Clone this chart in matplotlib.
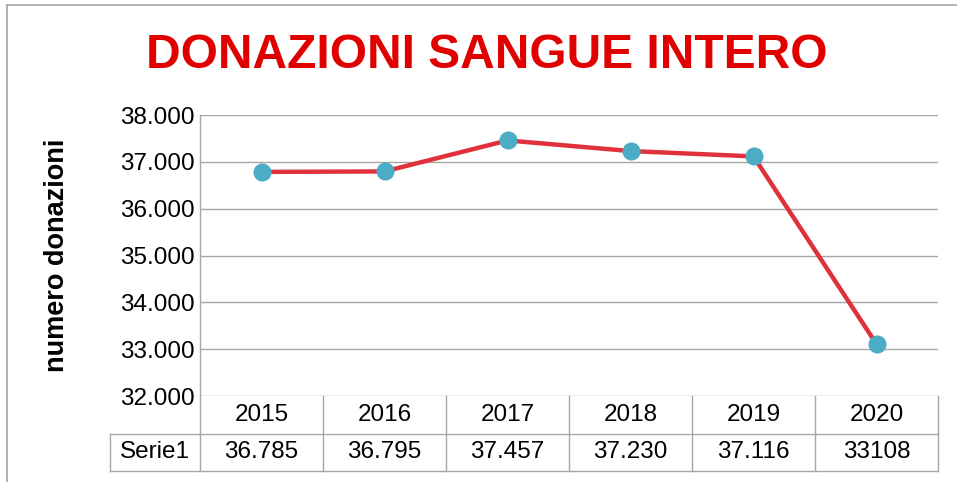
import matplotlib.pyplot as plt
from matplotlib.lines import Line2D
from matplotlib.ticker import FuncFormatter
import matplotlib.transforms as mtransforms

plt.rcParams['font.family'] = ['Liberation Sans', 'DejaVu Sans']

years = ["2015", "2016", "2017", "2018", "2019", "2020"]
donazioni = [36785, 36795, 37457, 37230, 37116, 33108]
table_labels = ["36.785", "36.795", "37.457", "37.230", "37.116", "33108"]
series_name = "Serie1"

W, H = 957, 482
fig = plt.figure(figsize=(W / 100, H / 100), dpi=100)

# plot area in pixels
x0, x1, y0, y1 = 200, 938, 115, 396
ax = fig.add_axes([x0 / W, 1 - y1 / H, (x1 - x0) / W, (y1 - y0) / H])

grid_c = "#A6A6A6"
xs = list(range(len(years)))
ax.plot(xs, donazioni, color="#E0313B", lw=3.2, zorder=3,
        marker="o", markersize=12, markerfacecolor="#4BACC6",
        markeredgecolor="#4BACC6", solid_capstyle="round")

ax.set_xlim(-0.5, len(years) - 0.5)
ax.set_ylim(32000, 38000)
ax.set_yticks(range(32000, 38001, 1000))
ax.yaxis.set_major_formatter(FuncFormatter(lambda v, p: f"{int(v):,}".replace(",", ".")))
ax.tick_params(axis="y", length=0, labelsize=17.5, pad=4)
ax.set_xticks([])
ax.grid(axis="y", color=grid_c, lw=1)
for s in ["top", "right", "bottom"]:
    ax.spines[s].set_visible(False)
ax.spines["left"].set_color(grid_c)
ax.spines["left"].set_linewidth(1)

ax.set_ylabel("numero donazioni", fontsize=19.5, fontweight="bold")
ax.yaxis.set_label_coords(-0.176, 0.5)

# data table under the plot
trans = mtransforms.blended_transform_factory(ax.transData, ax.transAxes)
rh = 37.5 / (y1 - y0)
lab_w = 90 / ((x1 - x0) / len(years))
lkw = dict(color=grid_c, lw=1, transform=trans, clip_on=False)
for k in range(len(years) + 1):
    ax.add_line(Line2D([k - 0.5, k - 0.5], [0, -2 * rh], **lkw))
ax.add_line(Line2D([-0.5 - lab_w, len(years) - 0.5], [-rh, -rh], **lkw))
ax.add_line(Line2D([-0.5 - lab_w, len(years) - 0.5], [-2 * rh, -2 * rh], **lkw))
ax.add_line(Line2D([-0.5 - lab_w, -0.5 - lab_w], [-rh, -2 * rh], **lkw))
for i, y in enumerate(years):
    ax.text(i, -0.5 * rh, y, transform=trans, ha="center", va="center", fontsize=17.5)
    ax.text(i, -1.5 * rh, table_labels[i], transform=trans, ha="center", va="center", fontsize=17.5)
ax.text(-0.5 - lab_w / 2, -1.5 * rh, series_name, transform=trans,
        ha="center", va="center", fontsize=17.5)

# title
fig.text(487 / W, 1 - 56 / H, "DONAZIONI SANGUE INTERO", ha="center", va="center",
         fontsize=34.5, fontweight="bold", color="#E00000")

# outer chart border
fig.add_artist(Line2D([7 / W, 1], [1 - 5 / H, 1 - 5 / H], color=grid_c, lw=1.2, transform=fig.transFigure))
fig.add_artist(Line2D([7 / W, 7 / W], [0, 1 - 5 / H], color=grid_c, lw=1.2, transform=fig.transFigure))

fig.savefig("out.png", dpi=100)
